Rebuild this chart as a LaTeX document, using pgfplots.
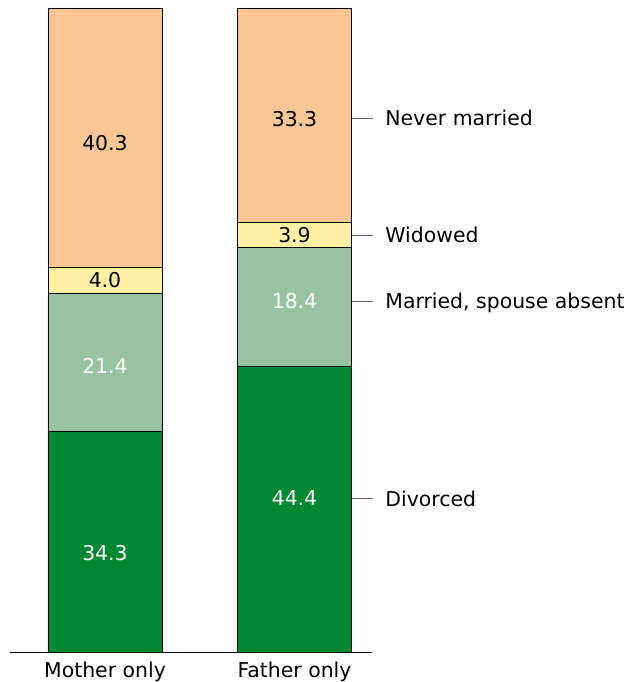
\documentclass[border=0pt]{standalone}
\usepackage{fontspec}
\setmainfont{DejaVu Sans}
\usepackage{pgfplots}
\usepackage{pgfplotstable}
\pgfplotsset{compat=1.18}
\definecolor{dkgreen}{RGB}{0,135,50}
\definecolor{ltgreen}{RGB}{152,194,162}
\definecolor{yel}{RGB}{255,240,165}
\definecolor{org}{RGB}{249,199,150}
\pgfplotstableread{
x y dy
0 34.3 -11.7
1 44.4 11.2
}\divorced
\pgfplotstableread{
x y dy
0 21.4 -3.5
1 18.4 5.9
}\married
\pgfplotstableread{
x y dy
0 4.0 0
1 3.9 0
}\widowed
\pgfplotstableread{
x y dy
0 40.3 -5.7
1 33.3 -3.8
}\never
\begin{document}
\begin{tikzpicture}
\begin{axis}[
  at={(0,0)}, anchor=south west,
  scale only axis, width=362bp, height=644bp,
  xmin=-0.5013, xmax=1.4090, ymin=0, ymax=100,
  ybar stacked, bar width=114bp,
  axis x line*=bottom, axis y line=none,
  x axis line style={-, line width=0.8bp},
  xtick={0,1}, xticklabels={Mother only, Father only},
  xtick style={draw=none}, ytick=\empty,
  xticklabel style={font=\fontsize{20.5}{24}\selectfont, yshift=-6bp},
  clip=false,
  /pgf/number format/assume math mode=true,
  nodes near coords={\pgfmathprintnumber[fixed,fixed zerofill,precision=1]{\pgfplotspointmeta}},
  nodes near coords style={font=\fontsize{20.5}{24}\selectfont},
  visualization depends on={\thisrow{dy}\as\dy},
  every node near coord/.append style={yshift=\dy bp},
]
\addplot[fill=dkgreen, draw=black, line width=0.8bp, every node near coord/.append style={text=white}] table[x=x,y=y] {\divorced};
\addplot[fill=ltgreen, draw=black, line width=0.8bp, every node near coord/.append style={text=white}] table[x=x,y=y] {\married};
\addplot[fill=yel, draw=black, line width=0.8bp, every node near coord/.append style={text=black}] table[x=x,y=y] {\widowed};
\addplot[fill=org, draw=black, line width=0.8bp, every node near coord/.append style={text=black}] table[x=x,y=y] {\never};
\foreach \yy/\lab in {82.9/Never married, 64.75/Widowed, 54.5/{Married, spouse absent}, 23.8/Divorced}{
  \edef\tmp{\noexpand\draw[gray!75!black, line width=0.8bp] (axis cs:1.3034,\yy) -- ([xshift=21bp]axis cs:1.3034,\yy) node[anchor=base west, inner sep=0pt, xshift=12bp, yshift=-7.5bp, text=black, font=\noexpand\fontsize{20.5}{24}\noexpand\selectfont] {\unexpanded\expandafter{\lab}};}
  \tmp
}
\end{axis}
\pgfresetboundingbox
\path[use as bounding box] (-10bp,-30bp) rectangle (618bp,652bp);
\end{tikzpicture}
\end{document}
